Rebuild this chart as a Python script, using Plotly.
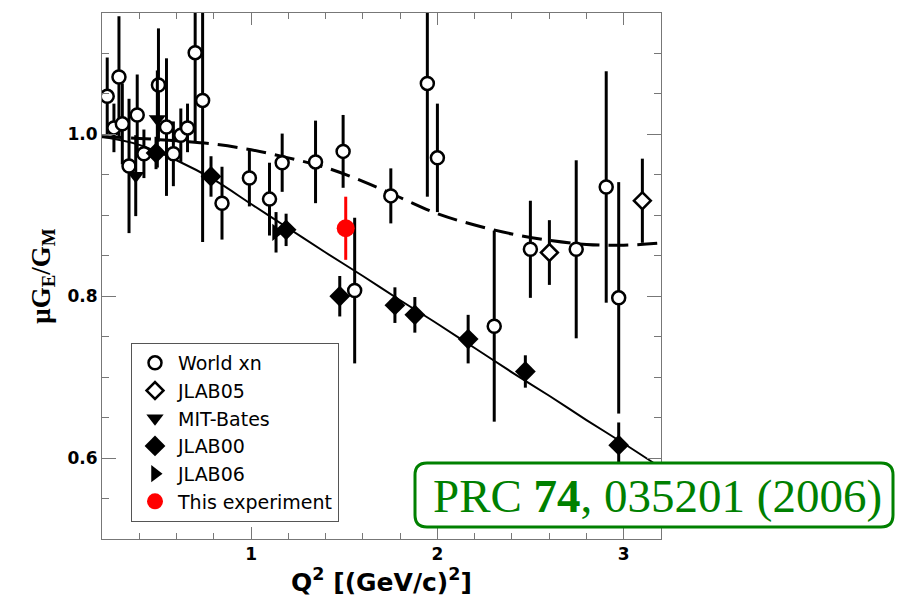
import plotly.graph_objects as go

# ---------------- data ----------------
world_x = [0.228, 0.291, 0.264, 0.309, 0.389, 0.345, 0.425, 0.503, 0.546, 0.583,
           0.623, 0.659, 0.700, 0.740, 0.844, 0.991, 1.099, 1.167, 1.346, 1.494,
           1.556, 1.946, 2.000, 1.750, 2.305, 2.499, 2.745, 2.906, 2.973]
world_y = [1.047, 1.071, 1.008, 1.013, 1.024, 0.961, 0.976, 1.061, 1.009, 0.976,
           0.999, 1.008, 1.101, 1.042, 0.915, 0.946, 0.920, 0.965, 0.966, 0.979,
           0.807, 1.063, 0.971, 0.924, 0.763, 0.858, 0.858, 0.935, 0.798]
world_err = [0.048, 0.075, 0.030, 0.050, 0.050, 0.083, 0.030, 0.070, 0.085, 0.040,
             0.033, 0.030, 0.110, 0.175, 0.045, 0.035, 0.045, 0.036, 0.051, 0.045,
             0.090, 0.140, 0.067, 0.034, 0.118, 0.060, 0.110, 0.143, 0.143]

jlab05_x = [2.601, 3.100]
jlab05_y = [0.854, 0.918]
jlab05_err = [0.040, 0.052]

mit_x = [0.381, 0.497]
mit_y = [0.949, 1.019]
mit_err = [0.050, 0.060]

jlab00_x = [0.490, 0.785, 1.188, 1.476, 1.772, 1.879, 2.165, 2.472, 2.973]
jlab00_y = [0.977, 0.948, 0.882, 0.800, 0.789, 0.777, 0.747, 0.707, 0.616]
jlab00_err = [0.020, 0.025, 0.020, 0.025, 0.022, 0.022, 0.030, 0.020, 0.028]

jlab06_x = [1.134]
jlab06_y = [0.879]
jlab06_err = [0.025]

this_x = [1.508]
this_y = [0.884]
this_err = [0.039]

curve_x = [0.2, 0.4, 0.6, 0.8, 1.0, 1.2, 1.4, 1.6, 1.8, 2.0, 2.2, 2.4, 2.6, 2.8, 3.0, 3.2]
solid_y = [0.997, 0.987, 0.968, 0.944, 0.914, 0.884, 0.854, 0.825, 0.795, 0.766,
           0.736, 0.706, 0.677, 0.647, 0.618, 0.588]
dashed_y = [0.997, 0.995, 0.992, 0.988, 0.981, 0.971, 0.959, 0.942, 0.922, 0.902,
            0.888, 0.877, 0.869, 0.864, 0.863, 0.866]

x_range = [0.2, 3.2]
y_range = [0.5, 1.15]

# ---------------- figure ----------------
fig = go.Figure()

fig.add_trace(go.Scatter(x=curve_x, y=dashed_y, mode="lines", line_shape="spline",
                         line=dict(color="black", width=3, dash="20px,9px"),
                         showlegend=False, hoverinfo="skip"))
fig.add_trace(go.Scatter(x=curve_x, y=solid_y, mode="lines", line_shape="spline",
                         line=dict(color="black", width=2),
                         showlegend=False, hoverinfo="skip"))

def err(vals, color="black"):
    return dict(type="data", array=vals, visible=True, color=color,
                thickness=3, width=0)

fig.add_trace(go.Scatter(x=world_x, y=world_y, mode="markers", name="World xn",
                         error_y=err(world_err),
                         marker=dict(symbol="circle", size=13, color="white",
                                     line=dict(color="black", width=2.5))))
fig.add_trace(go.Scatter(x=jlab05_x, y=jlab05_y, mode="markers", name="JLAB05",
                         error_y=err(jlab05_err),
                         marker=dict(symbol="diamond", size=13, color="white",
                                     line=dict(color="black", width=2.5))))
fig.add_trace(go.Scatter(x=mit_x, y=mit_y, mode="markers", name="MIT-Bates",
                         error_y=err(mit_err),
                         marker=dict(symbol="triangle-down", size=15, color="black",
                                     line=dict(color="black", width=0))))
fig.add_trace(go.Scatter(x=jlab00_x, y=jlab00_y, mode="markers", name="JLAB00",
                         error_y=err(jlab00_err),
                         marker=dict(symbol="diamond", size=16, color="black",
                                     line=dict(color="black", width=0))))
fig.add_trace(go.Scatter(x=jlab06_x, y=jlab06_y, mode="markers", name="JLAB06",
                         error_y=err(jlab06_err),
                         marker=dict(symbol="triangle-right", size=15, color="black",
                                     line=dict(color="black", width=0))))
fig.add_trace(go.Scatter(x=this_x, y=this_y, mode="markers", name="This experiment",
                         error_y=err(this_err, "red"),
                         marker=dict(symbol="circle", size=18, color="red",
                                     line=dict(color="red", width=0))))

# ---------------- reference box (rounded) ----------------
L, R, T, B = 102, 661, 13, 539   # plot area in pixels
def pp(px, py):
    return (px - L) / (R - L), (B - py) / (B - T)

bl, br, bt, bb, rad = 415, 893, 463, 527, 12
pts = [("M", bl + rad, bt), ("L", br - rad, bt), ("Q", br, bt, br, bt + rad),
       ("L", br, bb - rad), ("Q", br, bb, br - rad, bb), ("L", bl + rad, bb),
       ("Q", bl, bb, bl, bb - rad), ("L", bl, bt + rad), ("Q", bl, bt, bl + rad, bt)]
path = ""
for p in pts:
    cmd = p[0]
    coords = p[1:]
    segs = []
    for i in range(0, len(coords), 2):
        x, y = pp(coords[i], coords[i + 1])
        segs.append(f"{x:.5f},{y:.5f}")
    path += cmd + " " + " ".join(segs) + " "
path += "Z"

fig.add_shape(type="path", path=path, xref="paper", yref="paper", layer="above",
              fillcolor="white", line=dict(color="rgb(0,128,0)", width=3))
ax, ay = pp(657, 496)
fig.add_annotation(x=ax, y=ay, xref="paper", yref="paper", showarrow=False,
                   text="PRC <b>74</b>, 035201 (2006)",
                   font=dict(family="Liberation Serif", size=47, color="rgb(0,128,0)"),
                   xanchor="center", yanchor="middle")

axis_common = dict(showline=True, linecolor="#777", linewidth=1, mirror="allticks",
                   ticks="inside", tickcolor="#777", tickwidth=1, showgrid=False,
                   zeroline=False,
                   tickfont=dict(family="DejaVu Sans", size=17, color="black", weight="bold"))

fig.update_xaxes(range=x_range, tickmode="linear", tick0=0, dtick=1, ticklen=12,
                 minor=dict(ticks="inside", dtick=0.2, tick0=0, ticklen=6, tickcolor="#777"),
                 title=dict(text="Q<sup>2</sup> [(GeV/c)<sup>2</sup>]",
                            font=dict(family="DejaVu Sans", size=25, color="black", weight="bold"),
                            standoff=8),
                 **axis_common)
fig.update_yaxes(range=y_range, tickmode="linear", tick0=0, dtick=0.2, ticklen=14,
                 tickformat=".1f",
                 minor=dict(ticks="inside", dtick=0.05, tick0=0, ticklen=7, tickcolor="#777"),
                 title=dict(text="μG<sub>E</sub>/G<sub>M</sub>",
                            font=dict(family="Liberation Serif", size=27, color="black", weight="bold"),
                            standoff=9),
                 **axis_common)

lx, ly = pp(131, 343)
fig.update_layout(
    width=899, height=601,
    margin=dict(l=L, r=899 - R, t=T, b=601 - B, autoexpand=False),
    paper_bgcolor="white", plot_bgcolor="white",
    showlegend=True,
    legend=dict(x=lx, y=ly, xanchor="left", yanchor="top", bgcolor="white",
                bordercolor="#555", borderwidth=1, itemwidth=36,
                font=dict(family="DejaVu Sans", size=19, color="black")),
)

fig.write_html("out.html")
